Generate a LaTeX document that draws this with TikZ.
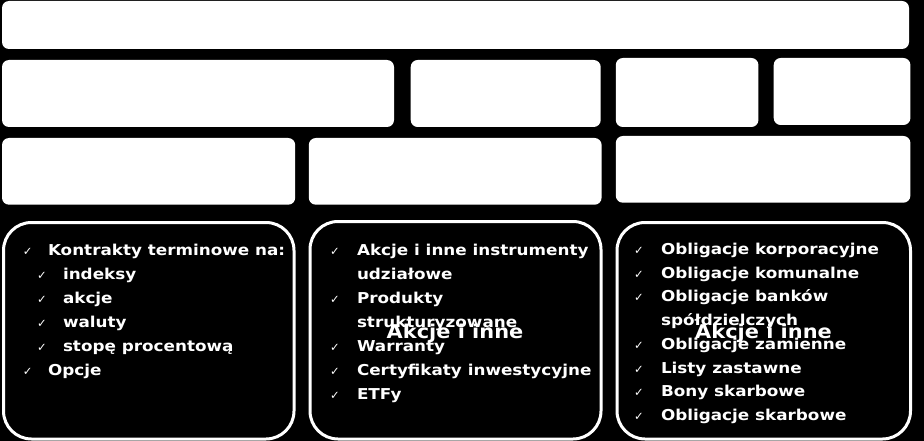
\documentclass[tikz,border=0pt]{standalone}
\usepackage{fontspec}
\setmainfont{DejaVu Sans}
\newfontfamily\itemfont[FakeStretch=1.12]{DejaVu Sans}
\newfontfamily\overfont[FakeStretch=1.1]{DejaVu Sans}
\newfontfamily\ckfont{DejaVu Sans}
\newcommand{\ck}[1][25pt]{\makebox[#1][l]{\mdseries\ckfont\fontsize{11.5}{11.5}\selectfont ✓}}
\tikzset{
  wbox/.style={fill=white, draw=none, rounded corners=7pt, inner sep=0pt, outer sep=0pt, anchor=north west},
  lbox/.style={draw=white, line width=3pt, fill=black, rounded corners=28pt, inner sep=0pt, outer sep=0pt, anchor=north west},
  item/.style={text=white, font=\itemfont\bfseries\fontsize{15}{18}\selectfont, anchor=base west, inner sep=0pt, outer sep=0pt},
  over/.style={text=white, font=\overfont\bfseries\fontsize{19}{22}\selectfont, anchor=base, inner sep=0pt},
}
\begin{document}
\begin{tikzpicture}[x=1pt,y=-1pt]
\fill[black] (0,0) rectangle (924,441);
\useasboundingbox (0,0) rectangle (924,441);
% top white boxes
\node[wbox, minimum width=907pt, minimum height=48pt] (r1) at (2,1) {};
\node[wbox, minimum width=392pt, minimum height=67pt] (r2a) at (2,60) {};
\node[wbox, minimum width=190pt, minimum height=67pt] (r2b) at (410.7,60) {};
\node[wbox, minimum width=142.6pt, minimum height=69pt] (r2c) at (615.8,58) {};
\node[wbox, minimum width=136.7pt, minimum height=67pt] (r2d) at (773.7,58) {};
\node[wbox, minimum width=293.2pt, minimum height=66.7pt] (r3a) at (2,138) {};
\node[wbox, minimum width=292.8pt, minimum height=66.7pt] (r3b) at (308.8,138) {};
\node[wbox, minimum width=294.6pt, minimum height=66.7pt] (r3c) at (615.8,136) {};
% bottom list boxes
\node[lbox, minimum width=290.5pt, minimum height=216.5pt] (b1) at (3.5,222.5) {};
\node[lbox, minimum width=291pt, minimum height=217.5pt] (b2) at (310,221.5) {};
\node[lbox, minimum width=293.5pt, minimum height=216.5pt] (b3) at (617,222.5) {};
% box 1 items
\node[item] (a1) at (23,255.5) {\ck Kontrakty terminowe na:};
\node[item] (a2) at (37,279.5) {\ck[26pt]indeksy};
\node[item] (a3) at (37,303.5) {\ck[26pt]akcje};
\node[item] (a4) at (37,327.5) {\ck[26pt]waluty};
\node[item] (a5) at (37,351.5) {\ck[26pt]stopę procentową};
\node[item] (a6) at (23,375.5) {\ck Opcje};
% box 2 items
\node[item] (c1) at (330,255.5) {\ck[27pt]Akcje i inne instrumenty};
\node[item] (c2) at (357,279.5) {udziałowe};
\node[item] (c3) at (330,303.5) {\ck[27pt]Produkty};
\node[item] (c4) at (357,327.5) {strukturyzowane};
\node[item] (c5) at (330,351.5) {\ck[27pt]Warranty};
\node[item] (c6) at (330,375.5) {\ck[27pt]Certyfikaty inwestycyjne};
\node[item] (c7) at (330,399.5) {\ck[27pt]ETFy};
\node[over] (o2) at (455,338) {Akcje i inne};
% box 3 items
\node[item] (d1) at (634,254.5) {\ck[27pt]Obligacje korporacyjne};
\node[item] (d2) at (634,278.2) {\ck[27pt]Obligacje komunalne};
\node[item] (d3) at (634,301.9) {\ck[27pt]Obligacje banków};
\node[item] (d4) at (661,325.6) {spółdzielczych};
\node[item] (d5) at (634,349.3) {\ck[27pt]Obligacje zamienne};
\node[item] (d6) at (634,373) {\ck[27pt]Listy zastawne};
\node[item] (d7) at (634,396.7) {\ck[27pt]Bony skarbowe};
\node[item] (d8) at (634,420.4) {\ck[27pt]Obligacje skarbowe};
\node[over] (o3) at (763.5,338) {Akcje i inne};
\end{tikzpicture}
\end{document}
